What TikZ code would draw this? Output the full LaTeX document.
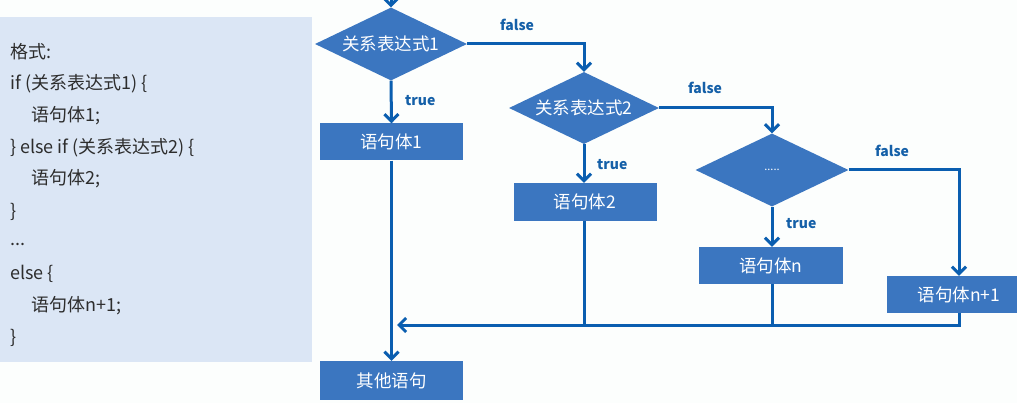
\documentclass[tikz,border=0pt]{standalone}
\usepackage{fontspec}
\setmainfont{Noto Sans CJK SC}
\usetikzlibrary{shapes.geometric,arrows.meta,calc}
\definecolor{boxblue}{RGB}{59,118,192}
\definecolor{lineblue}{RGB}{10,94,176}
\definecolor{labelblue}{RGB}{21,96,168}
\definecolor{panelbg}{RGB}{219,230,245}
\definecolor{pagebg}{RGB}{252,254,253}
\definecolor{codetext}{RGB}{45,45,45}
\tikzset{
  dec/.style={diamond, aspect=2.1, fill=boxblue, text=white, inner sep=0pt, font=\fontsize{17.5}{19}\selectfont},
  stmt/.style={rectangle, fill=boxblue, text=white, inner sep=0pt, minimum height=37pt, minimum width=143pt, font=\fontsize{17.5}{19}\selectfont},
  conn/.style={draw=lineblue, line width=3pt},
  arr/.style={conn, -{Straight Barb[length=7pt,width=14pt,line width=3pt]}},
  lab/.style={text=labelblue, font=\fontsize{14}{16}\selectfont\bfseries, inner sep=0pt, anchor=west},
  code/.style={text=codetext, font=\fontsize{18}{20}\selectfont, inner sep=0pt, anchor=west}
}
\begin{document}
\begin{tikzpicture}[x=1pt,y=-1pt]
\clip (0,0) rectangle (1017,403);
\fill[pagebg] (0,0) rectangle (1017,403);
\fill[panelbg] (0,17) rectangle (312,362);
% code text
\node[code] (c1) at (10,52) {格式:};
\node[code] (c2) at (10,84) {if (关系表达式1) \{};
\node[code] (c3) at (31,116) {语句体1;};
\node[code] (c4) at (10,148) {\} else if (关系表达式2) \{};
\node[code] (c5) at (31,179) {语句体2;};
\node[code] (c6) at (10,212) {\}};
\node[code] (c7) at (10,244) {...};
\node[code] (c8) at (10,274) {else \{};
\node[code] (c9) at (31,306) {语句体n+1;};
\node[code] (c10) at (10,338) {\}};
% flowchart nodes
\coordinate (start) at (391,-5);
\node[dec, minimum width=152pt, minimum height=73pt] (d1) at (391,44) {关系表达式1};
\node[dec, minimum width=150pt, minimum height=72pt] (d2) at (584,108) {关系表达式2};
\node[dec, minimum width=153pt, minimum height=73pt, font=\fontsize{11}{12}\selectfont] (d3) at (772,170) {.....};
\node[stmt] (b1) at (391.5,142) {语句体1};
\node[stmt, minimum height=38pt] (b2) at (585,202) {语句体2};
\node[stmt, minimum width=144pt] (bn) at (771,265.5) {语句体n};
\node[stmt, minimum width=144pt] (bn1) at (959,294.5) {语句体n+1};
\node[stmt, minimum height=39pt] (b0) at (391.5,380.5) {其他语句};
\coordinate (mL) at (397,325);
% connectors
\draw[arr] (start) -- (d1.north);
\draw[arr] (d1.south) -- (b1.north);
\node[lab] (t1) at (405,101) {true};
\draw[arr] (d1.east) -| (d2.north);
\node[lab] (f1) at (500,25) {false};
\draw[arr] (d2.south) -- (d2.south |- b2.north);
\node[lab] (t2) at (597,165) {true};
\draw[arr] (d2.east) -| (d3.north);
\node[lab] (f2) at (688,88) {false};
\draw[arr] (d3.south) -- (d3.south |- bn.north);
\node[lab] (t3) at (786,224) {true};
\draw[arr] (d3.east) -| (bn1.north);
\node[lab] (f3) at (875,151) {false};
\draw[arr] (bn1.south) |- (mL);
\draw[conn] (b2.south -| d2.south) -- (d2.south |- mL);
\draw[conn] (bn.south -| d3.south) -- (d3.south |- mL);
\draw[arr] (b1.south) -- (b0.north);
\end{tikzpicture}
\end{document}
